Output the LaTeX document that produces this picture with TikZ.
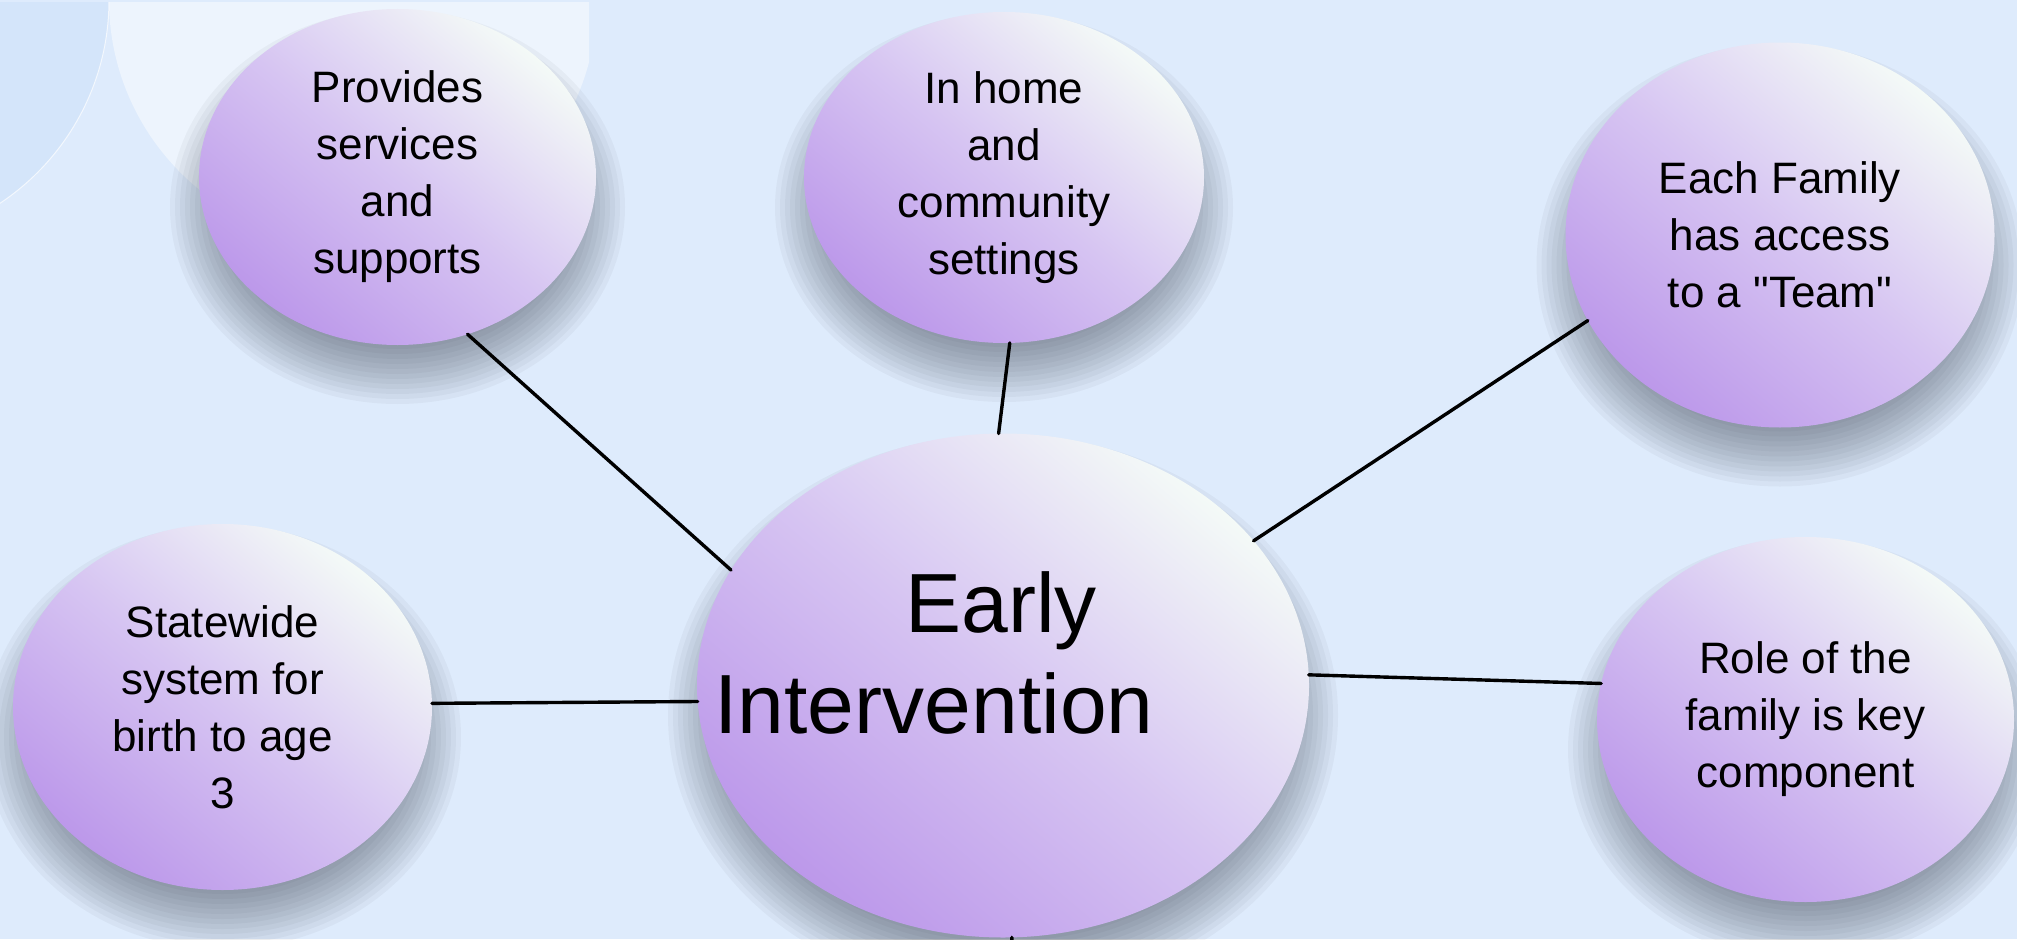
\documentclass[tikz,border=0pt]{standalone}
\usepackage{fontspec}
\setmainfont{Liberation Sans}
\usetikzlibrary{shapes.geometric}
\definecolor{bgblue}{RGB}{222,235,252}
\definecolor{decoblue}{RGB}{212,229,250}
\definecolor{decowhite}{RGB}{237,244,253}
\definecolor{bubbledark}{RGB}{188,152,234}
\definecolor{bubblemid}{RGB}{214,196,242}
\definecolor{bubblelight}{RGB}{244,250,247}
\definecolor{shadowgrey}{RGB}{40,48,60}
% soft shadow under a bubble: centre x, centre y, x radius, y radius
\newcommand{\bubbleshadow}[4]{%
	\foreach \k in {1,...,14}
		\fill[shadowgrey, opacity=.042] (#1,#2+30) ellipse[x radius={#3+34-5*\k}, y radius={#4+34-5*\k}];}
\begin{document}
\begin{tikzpicture}[x=1pt, y=-1pt, line join=round, line cap=round,
	bubble/.style={ellipse, inner sep=0pt, outer sep=0pt, align=center, font=\fontsize{44}{57}\selectfont,
		top color=bubblelight, bottom color=bubbledark, middle color=bubblemid, shading angle=-40},
	link/.style={line width=3.4pt, black}]
	\useasboundingbox (0,0) rectangle (2017,939);
	\clip (0,0) rectangle (2017,939);
	\fill[bgblue] (0,0) rectangle (2017,939);
	% corner decoration
	\begin{scope}
		\clip (0,3) rectangle (589,939);
		\fill[decowhite] (353,0) circle[radius=244];
		\fill[decoblue] (-135,0) circle[radius=244];
		\draw[white, line width=1pt, opacity=.7] (-135,0) circle[radius=244];
	\end{scope}
	
	\bubbleshadow{397.5}{177}{198.5}{168}
	\node[bubble, minimum width=397pt, minimum height=336pt] (prov) at (397.5,177) {Provides\\services\\and\\supports};
	\bubbleshadow{1004}{177.5}{200}{165.5}
	\node[bubble, minimum width=400pt, minimum height=331pt] (home) at (1004,177.5) {In home\\and\\community\\settings};
	\bubbleshadow{1780}{235}{214.5}{192.5}
	\node[bubble, minimum width=429pt, minimum height=385pt] (team) at (1780,235) {Each Family\\has access\\to a \textquotedbl Team\textquotedbl};
	\bubbleshadow{222.5}{707}{209.5}{183}
	\node[bubble, minimum width=419pt, minimum height=366pt] (state) at (222.5,707) {Statewide\\system for\\birth to age\\3};
	\bubbleshadow{1805.5}{719.5}{208.5}{182.5}
	\node[bubble, minimum width=417pt, minimum height=365pt] (role) at (1805.5,719.5) {Role of the\\family is key\\component};
	\bubbleshadow{1003}{685.5}{306}{252}
	\node[bubble, minimum width=612pt, minimum height=504pt] (ei) at (1003,685.5) {};
	\node[font=\fontsize{84}{101}\selectfont, align=center, inner sep=0pt, anchor=north] (eitext) at (934,571) {\hspace*{134pt}Early\\Intervention};
	
	\draw[link] (prov.-66) -- (ei.157);
	\draw[link] (home.-88) -- (ei.91);
	\draw[link] (team.204) -- (ei.30);
	\draw[link] (state.1) -- (ei.183);
	\draw[link] (ei.2.6) -- (role.170);
	\coordinate (offpage) at (1013,975);
	\draw[link] (ei.-88) -- (offpage);
\end{tikzpicture}
\end{document}
